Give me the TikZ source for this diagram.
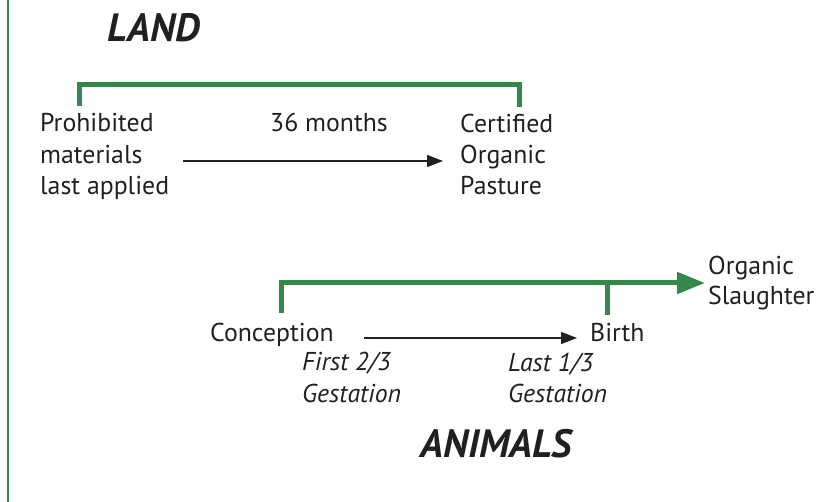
\documentclass[tikz,border=0pt]{standalone}
\usepackage{fontspec}
\setmainfont{PT Sans}
\usetikzlibrary{arrows.meta}
\definecolor{bargreen}{RGB}{52,137,72}
\definecolor{inkgrey}{RGB}{35,31,32}
\tikzset{
  txt/.style={inner sep=0pt, anchor=base west, text=inkgrey, font=\fontsize{25.8}{28}\selectfont},
  ital/.style={txt, font=\fontsize{25.8}{28}\selectfont\itshape},
  title/.style={txt, font=\fontsize{39.5}{42}\selectfont\bfseries\itshape},
  bar/.style={draw=bargreen, line width=5pt, line join=miter},
  timeline/.style={draw=inkgrey, line width=1.3pt, -{Triangle[length=16pt,width=12pt]}}
}
\begin{document}
\begin{tikzpicture}[x=1pt,y=-1pt]
\useasboundingbox (0,0) rectangle (833,502);
% frame line on the left
\draw[draw=bargreen, line width=2.5pt] (8,0) -- (8,502);

% LAND
\node[title] (land) at (107,42) {LAND};
\node[txt] (prohib) at (40,132) {Prohibited};
\node[txt] (materials) at (40,164) {materials};
\node[txt] (applied) at (40,195) {last applied};
\node[txt] (months) at (270,132) {36 months};
\node[txt] (certified) at (460,133) {Certified};
\node[txt] (organic) at (460,164) {Organic};
\node[txt] (pasture) at (460,195) {Pasture};

\coordinate (landstart) at (183,161);
\coordinate (landend) at (443,161);
\draw[timeline] (landstart) -- (landend);
\draw[bar] (79,106) -- (79,85) -- (519,85) -- (519,107); % land bracket

% ANIMALS
\node[txt] (conception) at (210,342) {Conception};
\node[ital] (first) at (302,371) {First 2/3};
\node[ital] (gestfirst) at (302,403) {Gestation};
\node[txt] (birth) at (590,342) {Birth};
\node[ital] (last) at (508,372) {Last 1/3};
\node[ital] (gestlast) at (508,403) {Gestation};
\node[txt] (slorganic) at (708,275) {Organic};
\node[txt] (slaughter) at (708,305) {Slaughter};
\node[title] (animals) at (420,457) {ANIMALS};

\coordinate (animstart) at (364,338);
\coordinate (animend) at (577,338);
\draw[timeline] (animstart) -- (animend);
\draw[bar, -{Triangle[length=28pt,width=21pt]}] (281,313) -- (281,283) -- (705,283); % animal bar
\draw[bar] (607,283) -- (607,315); % birth tick
\end{tikzpicture}
\end{document}
